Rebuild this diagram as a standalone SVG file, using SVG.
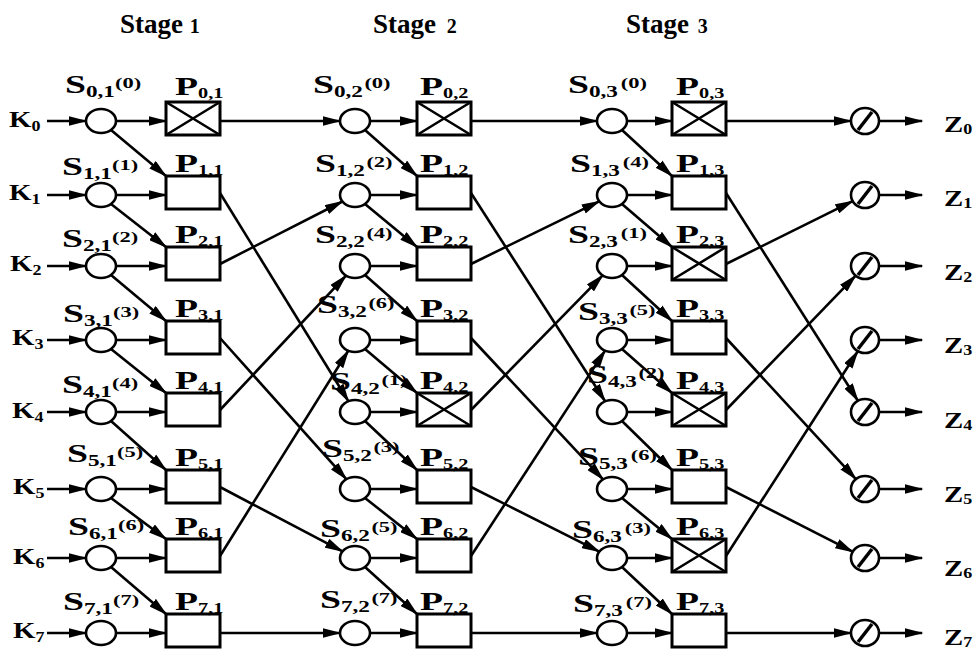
<svg xmlns="http://www.w3.org/2000/svg" width="979" height="657" viewBox="0 0 979 657">
<style>
.ln{stroke:#000;stroke-width:2.6;fill:none;marker-end:url(#ah)}
.xl{stroke:#000;stroke-width:2.6;fill:none}
.c{fill:#fff;stroke:#000;stroke-width:2.6}
.bx{fill:#fff;stroke:#000;stroke-width:3}
.sl{stroke:#000;stroke-width:3.5}
text{font-family:"Liberation Serif","Times New Roman",serif;font-weight:bold;fill:#000}
.lb{font-size:26px}
.kb{font-size:24px}
.sb{font-size:16px}
.sp{font-size:15.5px}
.pb{font-size:14px}
.ks{font-size:15px}
.st{font-size:27px}
</style>
<defs>
<marker id="ah" markerUnits="userSpaceOnUse" markerWidth="19" markerHeight="10" refX="17.5" refY="5" orient="auto" viewBox="0 0 19 10">
<path d="M0,0 L19,5 L0,10 Z" fill="#000"/>
</marker>
</defs>

<g id="titles">
<text class="st" x="120" y="33">Stage <tspan font-size="20">1</tspan></text>
<text class="st" x="373" y="33">Stage <tspan dx="4" font-size="20">2</tspan></text>
<text class="st" x="626" y="33">Stage <tspan dx="2" font-size="20">3</tspan></text>
</g>

<g id="connectors">
<path class="ln" d="M47,121 H86"/>
<path class="ln" d="M47,195 H86"/>
<path class="ln" d="M47,266 H86"/>
<path class="ln" d="M47,340 H86"/>
<path class="ln" d="M47,412 H86"/>
<path class="ln" d="M47,489 H86"/>
<path class="ln" d="M47,558 H86"/>
<path class="ln" d="M47,633 H86"/>
<path class="ln" d="M116,121 H166"/>
<path class="ln" d="M116,195 H166"/>
<path class="ln" d="M116,266 H166"/>
<path class="ln" d="M116,340 H166"/>
<path class="ln" d="M116,412 H166"/>
<path class="ln" d="M116,489 H166"/>
<path class="ln" d="M116,558 H166"/>
<path class="ln" d="M116,633 H166"/>
<path class="ln" d="M111,130 L166,176"/>
<path class="ln" d="M111,204 L166,247"/>
<path class="ln" d="M111,275 L166,321"/>
<path class="ln" d="M111,349 L166,393"/>
<path class="ln" d="M111,421 L166,470"/>
<path class="ln" d="M111,498 L166,539"/>
<path class="ln" d="M111,567 L166,614"/>
<path class="ln" d="M220,121 L340,121"/>
<path class="ln" d="M220,193 L348.4,401.2"/>
<path class="ln" d="M220,264 L342.4,201.5"/>
<path class="ln" d="M220,338 L346.3,479.2"/>
<path class="ln" d="M220,410 L346,275.6"/>
<path class="ln" d="M220,487 L342.5,551.4"/>
<path class="ln" d="M220,556 L348.3,350.7"/>
<path class="ln" d="M220,633 L340,633"/>
<path class="ln" d="M370,121 H417"/>
<path class="ln" d="M370,195 H417"/>
<path class="ln" d="M370,266 H417"/>
<path class="ln" d="M370,340 H417"/>
<path class="ln" d="M370,412 H417"/>
<path class="ln" d="M370,489 H417"/>
<path class="ln" d="M370,558 H417"/>
<path class="ln" d="M370,633 H417"/>
<path class="ln" d="M365,130 L417,176"/>
<path class="ln" d="M365,204 L417,247"/>
<path class="ln" d="M365,275 L417,321"/>
<path class="ln" d="M365,349 L417,393"/>
<path class="ln" d="M365,421 L417,470"/>
<path class="ln" d="M365,498 L417,539"/>
<path class="ln" d="M365,567 L417,614"/>
<path class="ln" d="M471,121 L597,121"/>
<path class="ln" d="M471,193 L605.1,401.3"/>
<path class="ln" d="M471,264 L599.2,201.3"/>
<path class="ln" d="M471,338 L603,479.4"/>
<path class="ln" d="M471,410 L602.7,275.4"/>
<path class="ln" d="M471,487 L599.3,551.6"/>
<path class="ln" d="M471,556 L605.1,350.6"/>
<path class="ln" d="M471,633 L597,633"/>
<path class="ln" d="M627,121 H672"/>
<path class="ln" d="M627,195 H672"/>
<path class="ln" d="M627,266 H672"/>
<path class="ln" d="M627,340 H672"/>
<path class="ln" d="M627,412 H672"/>
<path class="ln" d="M627,489 H672"/>
<path class="ln" d="M627,558 H672"/>
<path class="ln" d="M627,633 H672"/>
<path class="ln" d="M622,130 L672,176"/>
<path class="ln" d="M622,204 L672,247"/>
<path class="ln" d="M622,275 L672,321"/>
<path class="ln" d="M622,349 L672,393"/>
<path class="ln" d="M622,421 L672,470"/>
<path class="ln" d="M622,498 L672,539"/>
<path class="ln" d="M622,567 L672,614"/>
<path class="ln" d="M726,121 L851,121"/>
<path class="ln" d="M726,193 L857.9,400.8"/>
<path class="ln" d="M726,264 L852.7,201.1"/>
<path class="ln" d="M726,338 L855.9,479.1"/>
<path class="ln" d="M726,410 L855.7,275.7"/>
<path class="ln" d="M726,487 L852.7,551.7"/>
<path class="ln" d="M726,556 L857.8,351.2"/>
<path class="ln" d="M726,633 L851,633"/>
<path class="ln" d="M879,121 H922"/>
<path class="ln" d="M879,195 H922"/>
<path class="ln" d="M879,266 H922"/>
<path class="ln" d="M879,340 H922"/>
<path class="ln" d="M879,412 H922"/>
<path class="ln" d="M879,489 H922"/>
<path class="ln" d="M879,558 H922"/>
<path class="ln" d="M879,633 H922"/>
</g>

<g id="K0"><text class="kb" transform="translate(9,127) scale(1.2,1)">K<tspan class="ks" dy="4">0</tspan></text></g>
<g id="K1"><text class="kb" transform="translate(9,200) scale(1.2,1)">K<tspan class="ks" dy="4">1</tspan></text></g>
<g id="K2"><text class="kb" transform="translate(10,271) scale(1.2,1)">K<tspan class="ks" dy="4">2</tspan></text></g>
<g id="K3"><text class="kb" transform="translate(12,345) scale(1.2,1)">K<tspan class="ks" dy="4">3</tspan></text></g>
<g id="K4"><text class="kb" transform="translate(12,418) scale(1.2,1)">K<tspan class="ks" dy="4">4</tspan></text></g>
<g id="K5"><text class="kb" transform="translate(13,494) scale(1.2,1)">K<tspan class="ks" dy="4">5</tspan></text></g>
<g id="K6"><text class="kb" transform="translate(13,564) scale(1.2,1)">K<tspan class="ks" dy="4">6</tspan></text></g>
<g id="K7"><text class="kb" transform="translate(13,638) scale(1.2,1)">K<tspan class="ks" dy="4">7</tspan></text></g>

<g id="S01"><ellipse class="c" cx="101" cy="121" rx="15" ry="12"/><text class="lb" transform="translate(65,93) scale(1.45,1)">S<tspan class="sb" dy="4">0,1</tspan><tspan class="sp" dy="-9">(0)</tspan></text></g>
<g id="S11"><ellipse class="c" cx="101" cy="195" rx="15" ry="12"/><text class="lb" transform="translate(62,175) scale(1.45,1)">S<tspan class="sb" dy="4">1,1</tspan><tspan class="sp" dy="-9">(1)</tspan></text></g>
<g id="S21"><ellipse class="c" cx="101" cy="266" rx="15" ry="12"/><text class="lb" transform="translate(62,247) scale(1.45,1)">S<tspan class="sb" dy="4">2,1</tspan><tspan class="sp" dy="-9">(2)</tspan></text></g>
<g id="S31"><ellipse class="c" cx="101" cy="340" rx="15" ry="12"/><text class="lb" transform="translate(63,322) scale(1.45,1)">S<tspan class="sb" dy="4">3,1</tspan><tspan class="sp" dy="-9">(3)</tspan></text></g>
<g id="S41"><ellipse class="c" cx="101" cy="412" rx="15" ry="12"/><text class="lb" transform="translate(62,393) scale(1.45,1)">S<tspan class="sb" dy="4">4,1</tspan><tspan class="sp" dy="-9">(4)</tspan></text></g>
<g id="S51"><ellipse class="c" cx="101" cy="489" rx="15" ry="12"/><text class="lb" transform="translate(67,462) scale(1.45,1)">S<tspan class="sb" dy="4">5,1</tspan><tspan class="sp" dy="-9">(5)</tspan></text></g>
<g id="S61"><ellipse class="c" cx="101" cy="558" rx="15" ry="12"/><text class="lb" transform="translate(68,535) scale(1.45,1)">S<tspan class="sb" dy="4">6,1</tspan><tspan class="sp" dy="-9">(6)</tspan></text></g>
<g id="S71"><ellipse class="c" cx="101" cy="633" rx="15" ry="12"/><text class="lb" transform="translate(63,610) scale(1.45,1)">S<tspan class="sb" dy="4">7,1</tspan><tspan class="sp" dy="-9">(7)</tspan></text></g>

<g id="P01"><rect class="bx" x="166" y="102" width="54" height="33"/><path class="xl" d="M166,102 L220,135 M166,135 L220,102"/><text class="lb" transform="translate(175,95) scale(1.45,1)">P<tspan class="pb" dy="3">0,1</tspan></text></g>
<g id="P11"><rect class="bx" x="166" y="176" width="54" height="33"/><text class="lb" transform="translate(175,172) scale(1.45,1)">P<tspan class="pb" dy="3">1,1</tspan></text></g>
<g id="P21"><rect class="bx" x="166" y="247" width="54" height="33"/><text class="lb" transform="translate(175,243) scale(1.45,1)">P<tspan class="pb" dy="3">2,1</tspan></text></g>
<g id="P31"><rect class="bx" x="166" y="321" width="54" height="33"/><text class="lb" transform="translate(175,317) scale(1.45,1)">P<tspan class="pb" dy="3">3,1</tspan></text></g>
<g id="P41"><rect class="bx" x="166" y="393" width="54" height="33"/><text class="lb" transform="translate(175,389) scale(1.45,1)">P<tspan class="pb" dy="3">4,1</tspan></text></g>
<g id="P51"><rect class="bx" x="166" y="470" width="54" height="33"/><text class="lb" transform="translate(175,466) scale(1.45,1)">P<tspan class="pb" dy="3">5,1</tspan></text></g>
<g id="P61"><rect class="bx" x="166" y="539" width="54" height="33"/><text class="lb" transform="translate(175,535) scale(1.45,1)">P<tspan class="pb" dy="3">6,1</tspan></text></g>
<g id="P71"><rect class="bx" x="166" y="614" width="54" height="33"/><text class="lb" transform="translate(175,610) scale(1.45,1)">P<tspan class="pb" dy="3">7,1</tspan></text></g>

<g id="S02"><ellipse class="c" cx="355" cy="121" rx="15" ry="12"/><text class="lb" transform="translate(313,93) scale(1.45,1)">S<tspan class="sb" dy="4">0,2</tspan><tspan class="sp" dx="1" dy="-9">(0)</tspan></text></g>
<g id="S12"><ellipse class="c" cx="355" cy="195" rx="15" ry="12"/><text class="lb" transform="translate(315,172) scale(1.45,1)">S<tspan class="sb" dy="4">1,2</tspan><tspan class="sp" dx="1" dy="-9">(2)</tspan></text></g>
<g id="S22"><ellipse class="c" cx="355" cy="266" rx="15" ry="12"/><text class="lb" transform="translate(315,243) scale(1.45,1)">S<tspan class="sb" dy="4">2,2</tspan><tspan class="sp" dx="1" dy="-9">(4)</tspan></text></g>
<g id="S32"><ellipse class="c" cx="355" cy="340" rx="15" ry="12"/><text class="lb" transform="translate(317,313) scale(1.45,1)">S<tspan class="sb" dy="4">3,2</tspan><tspan class="sp" dx="1" dy="-9">(6)</tspan></text></g>
<g id="S42"><ellipse class="c" cx="355" cy="412" rx="15" ry="12"/><text class="lb" transform="translate(330,390) scale(1.45,1)">S<tspan class="sb" dy="4">4,2</tspan><tspan class="sp" dx="1" dy="-9">(1)</tspan></text></g>
<g id="S52"><ellipse class="c" cx="355" cy="489" rx="15" ry="12"/><text class="lb" transform="translate(322,457) scale(1.45,1)">S<tspan class="sb" dy="4">5,2</tspan><tspan class="sp" dx="1" dy="-9">(3)</tspan></text></g>
<g id="S62"><ellipse class="c" cx="355" cy="558" rx="15" ry="12"/><text class="lb" transform="translate(320,537) scale(1.45,1)">S<tspan class="sb" dy="4">6,2</tspan><tspan class="sp" dx="1" dy="-9">(5)</tspan></text></g>
<g id="S72"><ellipse class="c" cx="355" cy="633" rx="15" ry="12"/><text class="lb" transform="translate(320,608) scale(1.45,1)">S<tspan class="sb" dy="4">7,2</tspan><tspan class="sp" dx="1" dy="-9">(7)</tspan></text></g>

<g id="P02"><rect class="bx" x="417" y="102" width="54" height="33"/><path class="xl" d="M417,102 L471,135 M417,135 L471,102"/><text class="lb" transform="translate(420,95) scale(1.45,1)">P<tspan class="pb" dy="3">0,2</tspan></text></g>
<g id="P12"><rect class="bx" x="417" y="176" width="54" height="33"/><text class="lb" transform="translate(420,172) scale(1.45,1)">P<tspan class="pb" dy="3">1,2</tspan></text></g>
<g id="P22"><rect class="bx" x="417" y="247" width="54" height="33"/><text class="lb" transform="translate(420,243) scale(1.45,1)">P<tspan class="pb" dy="3">2,2</tspan></text></g>
<g id="P32"><rect class="bx" x="417" y="321" width="54" height="33"/><text class="lb" transform="translate(420,317) scale(1.45,1)">P<tspan class="pb" dy="3">3,2</tspan></text></g>
<g id="P42"><rect class="bx" x="417" y="393" width="54" height="33"/><path class="xl" d="M417,393 L471,426 M417,426 L471,393"/><text class="lb" transform="translate(420,389) scale(1.45,1)">P<tspan class="pb" dy="3">4,2</tspan></text></g>
<g id="P52"><rect class="bx" x="417" y="470" width="54" height="33"/><text class="lb" transform="translate(420,466) scale(1.45,1)">P<tspan class="pb" dy="3">5,2</tspan></text></g>
<g id="P62"><rect class="bx" x="417" y="539" width="54" height="33"/><text class="lb" transform="translate(420,535) scale(1.45,1)">P<tspan class="pb" dy="3">6,2</tspan></text></g>
<g id="P72"><rect class="bx" x="417" y="614" width="54" height="33"/><text class="lb" transform="translate(420,610) scale(1.45,1)">P<tspan class="pb" dy="3">7,2</tspan></text></g>

<g id="S03"><ellipse class="c" cx="612" cy="121" rx="15" ry="12"/><text class="lb" transform="translate(568,93) scale(1.45,1)">S<tspan class="sb" dy="4">0,3</tspan><tspan class="sp" dx="2" dy="-9">(0)</tspan></text></g>
<g id="S13"><ellipse class="c" cx="612" cy="195" rx="15" ry="12"/><text class="lb" transform="translate(570,172) scale(1.45,1)">S<tspan class="sb" dy="4">1,3</tspan><tspan class="sp" dx="2" dy="-9">(4)</tspan></text></g>
<g id="S23"><ellipse class="c" cx="612" cy="266" rx="15" ry="12"/><text class="lb" transform="translate(568,243) scale(1.45,1)">S<tspan class="sb" dy="4">2,3</tspan><tspan class="sp" dx="2" dy="-9">(1)</tspan></text></g>
<g id="S33"><ellipse class="c" cx="612" cy="340" rx="15" ry="12"/><text class="lb" transform="translate(578,320) scale(1.45,1)">S<tspan class="sb" dy="4">3,3</tspan><tspan class="sp" dx="1" dy="-9">(5)</tspan></text></g>
<g id="S43"><ellipse class="c" cx="612" cy="412" rx="15" ry="12"/><text class="lb" transform="translate(587,383) scale(1.45,1)">S<tspan class="sb" dy="4">4,3</tspan><tspan class="sp" dx="1" dy="-9">(2)</tspan></text></g>
<g id="S53"><ellipse class="c" cx="612" cy="489" rx="15" ry="12"/><text class="lb" transform="translate(578,465) scale(1.45,1)">S<tspan class="sb" dy="4">5,3</tspan><tspan class="sp" dx="2" dy="-9">(6)</tspan></text></g>
<g id="S63"><ellipse class="c" cx="612" cy="558" rx="15" ry="12"/><text class="lb" transform="translate(572,538) scale(1.45,1)">S<tspan class="sb" dy="4">6,3</tspan><tspan class="sp" dx="2" dy="-9">(3)</tspan></text></g>
<g id="S73"><ellipse class="c" cx="612" cy="633" rx="15" ry="12"/><text class="lb" transform="translate(573,612) scale(1.45,1)">S<tspan class="sb" dy="4">7,3</tspan><tspan class="sp" dx="2" dy="-9">(7)</tspan></text></g>

<g id="P03"><rect class="bx" x="672" y="102" width="54" height="33"/><path class="xl" d="M672,102 L726,135 M672,135 L726,102"/><text class="lb" transform="translate(676,95) scale(1.45,1)">P<tspan class="pb" dy="3">0,3</tspan></text></g>
<g id="P13"><rect class="bx" x="672" y="176" width="54" height="33"/><text class="lb" transform="translate(676,172) scale(1.45,1)">P<tspan class="pb" dy="3">1,3</tspan></text></g>
<g id="P23"><rect class="bx" x="672" y="247" width="54" height="33"/><path class="xl" d="M672,247 L726,280 M672,280 L726,247"/><text class="lb" transform="translate(676,243) scale(1.45,1)">P<tspan class="pb" dy="3">2,3</tspan></text></g>
<g id="P33"><rect class="bx" x="672" y="321" width="54" height="33"/><text class="lb" transform="translate(676,317) scale(1.45,1)">P<tspan class="pb" dy="3">3,3</tspan></text></g>
<g id="P43"><rect class="bx" x="672" y="393" width="54" height="33"/><path class="xl" d="M672,393 L726,426 M672,426 L726,393"/><text class="lb" transform="translate(676,389) scale(1.45,1)">P<tspan class="pb" dy="3">4,3</tspan></text></g>
<g id="P53"><rect class="bx" x="672" y="470" width="54" height="33"/><text class="lb" transform="translate(676,466) scale(1.45,1)">P<tspan class="pb" dy="3">5,3</tspan></text></g>
<g id="P63"><rect class="bx" x="672" y="539" width="54" height="33"/><path class="xl" d="M672,539 L726,572 M672,572 L726,539"/><text class="lb" transform="translate(676,535) scale(1.45,1)">P<tspan class="pb" dy="3">6,3</tspan></text></g>
<g id="P73"><rect class="bx" x="672" y="614" width="54" height="33"/><text class="lb" transform="translate(676,610) scale(1.45,1)">P<tspan class="pb" dy="3">7,3</tspan></text></g>

<g id="O0"><ellipse class="c" cx="865" cy="121" rx="14" ry="13"/><line class="sl" x1="858" y1="130" x2="872" y2="112"/></g>
<g id="O1"><ellipse class="c" cx="865" cy="195" rx="14" ry="13"/><line class="sl" x1="858" y1="204" x2="872" y2="186"/></g>
<g id="O2"><ellipse class="c" cx="865" cy="266" rx="14" ry="13"/><line class="sl" x1="858" y1="275" x2="872" y2="257"/></g>
<g id="O3"><ellipse class="c" cx="865" cy="340" rx="14" ry="13"/><line class="sl" x1="858" y1="349" x2="872" y2="331"/></g>
<g id="O4"><ellipse class="c" cx="865" cy="412" rx="14" ry="13"/><line class="sl" x1="858" y1="421" x2="872" y2="403"/></g>
<g id="O5"><ellipse class="c" cx="865" cy="489" rx="14" ry="13"/><line class="sl" x1="858" y1="498" x2="872" y2="480"/></g>
<g id="O6"><ellipse class="c" cx="865" cy="558" rx="14" ry="13"/><line class="sl" x1="858" y1="567" x2="872" y2="549"/></g>
<g id="O7"><ellipse class="c" cx="865" cy="633" rx="14" ry="13"/><line class="sl" x1="858" y1="642" x2="872" y2="624"/></g>

<g id="Z0"><text class="kb" transform="translate(944,132) scale(1.2,1)">Z<tspan class="ks" dy="2">0</tspan></text></g>
<g id="Z1"><text class="kb" transform="translate(944,206) scale(1.2,1)">Z<tspan class="ks" dy="2">1</tspan></text></g>
<g id="Z2"><text class="kb" transform="translate(944,280) scale(1.2,1)">Z<tspan class="ks" dy="2">2</tspan></text></g>
<g id="Z3"><text class="kb" transform="translate(944,353) scale(1.2,1)">Z<tspan class="ks" dy="2">3</tspan></text></g>
<g id="Z4"><text class="kb" transform="translate(944,428) scale(1.2,1)">Z<tspan class="ks" dy="2">4</tspan></text></g>
<g id="Z5"><text class="kb" transform="translate(944,502) scale(1.2,1)">Z<tspan class="ks" dy="2">5</tspan></text></g>
<g id="Z6"><text class="kb" transform="translate(944,576) scale(1.2,1)">Z<tspan class="ks" dy="2">6</tspan></text></g>
<g id="Z7"><text class="kb" transform="translate(944,645) scale(1.2,1)">Z<tspan class="ks" dy="2">7</tspan></text></g>
</svg>
